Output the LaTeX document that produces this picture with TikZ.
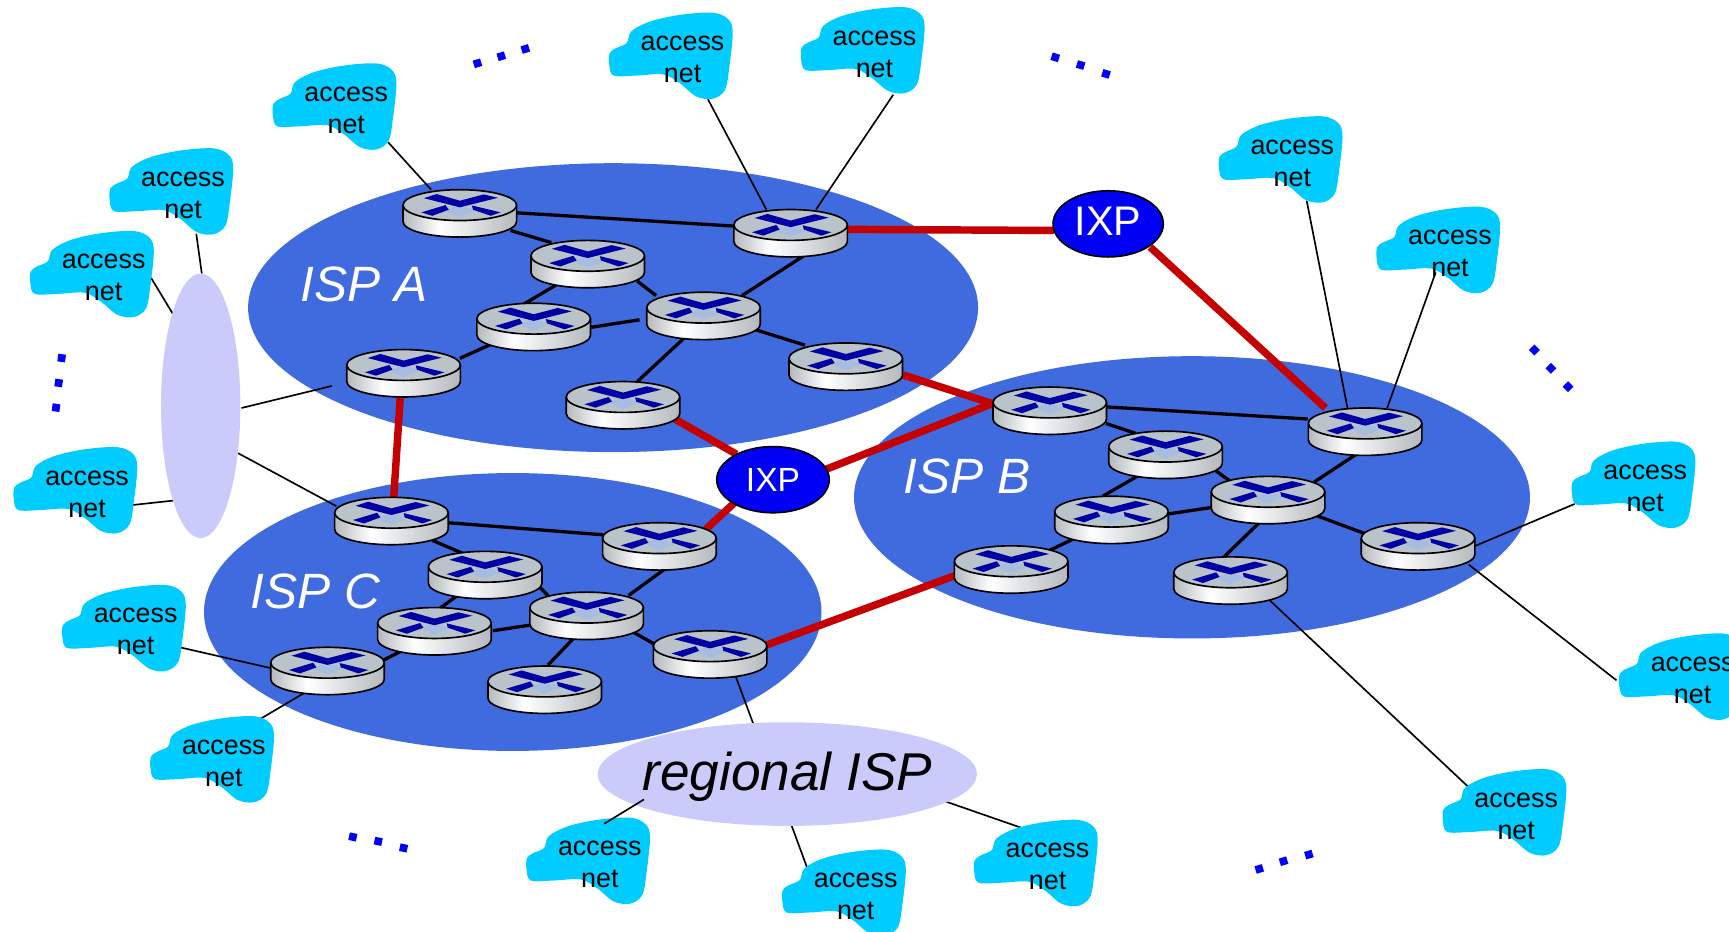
\documentclass[tikz,border=0pt]{standalone}
\usepackage{fontspec}
\setmainfont{Liberation Sans}
\usetikzlibrary{shapes.geometric,calc}
\pgfdeclarelayer{bg}\pgfdeclarelayer{lnk}
\pgfsetlayers{bg,lnk,main}
\definecolor{ispblue}{HTML}{3F6BDF}
\definecolor{lilac}{HTML}{CBCBFB}
\definecolor{cloudc}{HTML}{00CCFF}
\definecolor{redlink}{HTML}{C40000}
\definecolor{ixpblue}{HTML}{0000F5}
\definecolor{rtop}{HTML}{B9C3C9}
\definecolor{rmark}{HTML}{0000A5}
\definecolor{rlight}{HTML}{A6BDDF}
\definecolor{rgray}{HTML}{B4B9BD}
\pgfdeclarehorizontalshading{rbody}{100bp}{color(0bp)=(rgray); color(25bp)=(rgray); color(41bp)=(white); color(75bp)=(rgray); color(100bp)=(rgray)}
\tikzset{
  ispell/.style={ellipse,fill=ispblue,inner sep=0pt},
  lilacell/.style={ellipse,fill=lilac,inner sep=0pt,text=black},
  ixpnode/.style={ellipse,fill=ixpblue,draw=black,line width=1.2pt,inner sep=0pt},
  isplabel/.style={text=white,font=\fontsize{36}{40}\selectfont\itshape,inner sep=0pt},
  cloudtext/.style={align=center,inner sep=0pt,text=black,font=\fontsize{19.5}{23.2}\selectfont},
  blacklink/.style={draw=black,line width=2.4pt},
  redl/.style={draw=redlink,line width=5.4pt},
  thinl/.style={draw=black,line width=1.2pt},
  dotmark/.style={fill=blue},
}
\newcommand{\routerat}[3]{%
  \begin{scope}[shift={(#2,#3)}]
    \shade[shading=rbody] (-51.5,0) -- (-51.5,15) arc[x radius=51.5,y radius=14,start angle=180,end angle=0] -- (51.5,0) -- cycle;
    \draw[black,line width=1.2pt] (-51.5,0) -- (-51.5,15) arc[x radius=51.5,y radius=14,start angle=180,end angle=0] -- (51.5,0);
    \filldraw[fill=rtop,draw=black,line width=1.2pt] (0,0) ellipse[x radius=51.5,y radius=14];
    \fill[rlight] (0,0) -- (14,5) -- (0,11) -- (-14,5) -- cycle;
    \fill[rmark] (-32.6,-6.3) -- (-21,-10) -- (0,-4) -- (21.8,-9.7) -- (34.5,-6.6) -- (0,2) -- cycle;
    \fill[rmark] (-35,6.6) -- (-13,0) -- (-10,4.2) -- (-25,9.7) -- cycle;
    \fill[rmark] (11,0.3) -- (37,6.6) -- (28,9.7) -- (12,4.2) -- cycle;
    \coordinate (#1) at (0,0);
  \end{scope}}
\newcommand{\cloudat}[3]{%
  \begin{scope}[shift={(#2,#3)}]
    \fill[cloudc] plot[smooth cycle,tension=0.55] coordinates {(-66,-4) (-60,-8.5) (-50.5,-13.1) (-46.5,-23.5) (-29.5,-32.5) (-2.5,-38.5) (27.5,-40.5) (41.5,-34.5) (45.5,-22.5) (42.5,8) (38.5,29.5) (27.5,37.5) (12.5,35.5) (-2.5,23.5) (-17.5,15.5) (-41.5,16.5) (-62.5,16.5) (-66.5,6.5)};
    \node[cloudtext] (#1) at (0,2) {access\\net};
  \end{scope}}
\newcommand{\lk}[5]{\draw[#1] ($(#2)+(#3)$) -- ($(#4)+(#5)$);}
\newcommand{\dotgroup}[7]{%
  \foreach \px/\py in {#2/#3,#4/#5,#6/#7} {\fill[dotmark,shift={(\px,\py)},rotate=#1] (-3.5,-3.5) rectangle (3.5,3.5);}}
\begin{document}
\begin{tikzpicture}[x=0.8pt,y=-0.8pt]
\useasboundingbox (0,0) rectangle (1568,845.2);
\clip (0,0) rectangle (1568,845.2);
\begin{pgfonlayer}{bg}
  \node[ispell,minimum width=529.6pt,minimum height=209.6pt] (ispA) at (556,279) {};
  \node[ispell,minimum width=490.4pt,minimum height=204.8pt] (ispB) at (1081,451) {};
  \node[ispell,minimum width=448pt,minimum height=201.6pt] (ispC) at (465,555) {};
\end{pgfonlayer}
\node[isplabel] (labA) at (330,258) {ISP A};
\node[isplabel] (labB) at (877,432) {ISP B};
\node[isplabel] (labC) at (286,536) {ISP C};
\node[lilacell,minimum width=57.6pt,minimum height=192pt] (L) at (182,368) {};
\node[lilacell,minimum width=275.2pt,minimum height=75.2pt] (R) at (714,702) {};
\node[inner sep=0pt,text=black,font=\fontsize{38.6}{42}\selectfont\itshape] (Rlab) at (714,704) {regional ISP};
\node[ixpnode,minimum width=80pt,minimum height=48pt] (I1) at (1005,203) {};
\node[text=white,inner sep=0pt,font=\fontsize{30}{34}\selectfont] (I1lab) at (1005,201) {IXP};
\node[ixpnode,minimum width=81.6pt,minimum height=48pt] (I2) at (701,435) {};
\node[text=white,inner sep=0pt,font=\fontsize{24.3}{28}\selectfont] (I2lab) at (701,435) {IXP};
\routerat{A1}{417}{186}\routerat{A2}{717}{204}\routerat{A3}{533}{232}\routerat{A4}{638}{279}
\routerat{A5}{484}{289}\routerat{A6}{767}{325}\routerat{A7}{366}{331}\routerat{A8}{565}{360}
\routerat{B1}{952}{365}\routerat{B2}{1238}{384}\routerat{B3}{1057}{405}\routerat{B4}{1150}{446}
\routerat{B5}{1008}{464}\routerat{B6}{1286}{488}\routerat{B7}{917}{509}\routerat{B8}{1116}{519}
\routerat{C1}{355}{465}\routerat{C2}{598}{488}\routerat{C3}{440}{514}\routerat{C4}{532}{551}
\routerat{C5}{394}{565}\routerat{C6}{644}{586}\routerat{C7}{297}{601}\routerat{C8}{494}{618}
\cloudat{n1}{314}{98}\cloudat{n2}{619}{52}\cloudat{n3}{793}{47}\cloudat{n4}{166}{175}
\cloudat{n5}{94}{250}\cloudat{n6}{79}{446}\cloudat{n7}{123}{571}\cloudat{n8}{203}{690}
\cloudat{n9}{544}{782}\cloudat{n10}{776}{811}\cloudat{n11}{950}{784}\cloudat{n12}{1375}{738}
\cloudat{n13}{1535}{615}\cloudat{n14}{1492}{441}\cloudat{n15}{1315}{228}\cloudat{n16}{1172}{146}
\begin{pgfonlayer}{lnk}
  \lk{blacklink}{A1}{52,7}{A2}{-52,1}
  \lk{blacklink}{A1}{46,23}{A3}{-33,-12}
  \lk{blacklink}{A3}{-28,26}{A5}{-11,-12}
  \lk{blacklink}{A3}{45,23}{A4}{-43,-11}
  \lk{blacklink}{A5}{51,8}{A4}{-58,11}
  \lk{blacklink}{A5}{-36,22}{A7}{51,-6}
  \lk{blacklink}{A4}{35,-11}{A2}{12,28}
  \lk{blacklink}{A4}{-18,28}{A8}{13,-14}
  \lk{blacklink}{A4}{47,20}{A6}{-37,-12}
  \lk{blacklink}{B1}{51,4}{B2}{-52,-4}
  \lk{blacklink}{B1}{51,19}{B3}{-27,-12}
  \lk{blacklink}{B3}{-24,26}{B5}{-8,-14}
  \lk{blacklink}{B3}{43,20}{B4}{-35,-10}
  \lk{blacklink}{B5}{52,2}{B4}{-50,14}
  \lk{blacklink}{B5}{-33,24}{B7}{33,-9}
  \lk{blacklink}{B4}{42,-9}{B2}{-5,26}
  \lk{blacklink}{B4}{-8,28}{B8}{-6,-14}
  \lk{blacklink}{B4}{45,22}{B6}{-48,-4}
  \lk{blacklink}{C1}{51,9}{C2}{-51,-3}
  \lk{blacklink}{C1}{37,25}{C3}{-20,-12}
  \lk{blacklink}{C3}{-25,26}{C5}{3,-12}
  \lk{blacklink}{C3}{50,19}{C4}{-35,-11}
  \lk{blacklink}{C5}{53,7}{C4}{-52,16}
  \lk{blacklink}{C5}{-29,25}{C7}{48,-1}
  \lk{blacklink}{C4}{38,-11}{C2}{5,28}
  \lk{blacklink}{C4}{-10,26}{C8}{3,-15}
  \lk{blacklink}{C4}{40,21}{C6}{-49,-1}
  \lk{redl}{A2}{51,4}{I1}{-49,6}
  \lk{redl}{I1}{38,21}{B2}{-36,-14}
  \lk{redl}{A6}{52,15}{B1}{-52,1}
  \lk{redl}{B1}{-52,1}{I2}{47,-9}
  \lk{redl}{A8}{47,20}{I2}{-33,-23}
  \lk{redl}{I2}{-35,21}{C2}{42,-8}
  \lk{redl}{A7}{-3,29}{C1}{2,-13}
  \lk{redl}{C6}{51,-1}{B7}{-51,13}
  \lk{thinl}{n1}{38,29}{A1}{-26,-14}
  \lk{thinl}{n2}{23,36}{A2}{-22,-14}
  \lk{thinl}{n3}{17,37}{A2}{23,-14}
  \lk{thinl}{n4}{12,35}{L}{1,-120}
  \lk{thinl}{n5}{43,0}{L}{-25,-83}
  \lk{thinl}{n6}{41,10}{L}{-25,86}
  \lk{thinl}{n7}{40,14}{C7}{-51,5}
  \lk{thinl}{n8}{33,-40}{C7}{-17,25}
  \lk{thinl}{n10}{-44,-26}{R}{4,47}
  \lk{thinl}{n11}{-20,-34}{R}{144,25}
  \lk{thinl}{n12}{-43,-26}{B8}{34,24}
  \lk{thinl}{n13}{-69,0}{B6}{46,24}
  \lk{thinl}{n14}{-64,14}{B6}{52,7}
  \lk{thinl}{n15}{-13,17}{B2}{20,-14}
  \lk{thinl}{n16}{13,34}{B2}{-16,-14}
  \lk{thinl}{C6}{23,27}{R}{-31,-46}
  \lk{thinl}{L}{37,2}{A7}{-65,19}
  \lk{thinl}{L}{34,43}{C1}{-50,-6}
\end{pgfonlayer}
\lk{thinl}{n9}{4,-37}{R}{-130,23}
\dotgroup{17}{433}{57.4}{454.6}{51}{476.4}{44.4}
\dotgroup{-17}{957}{52}{980}{59}{1003}{67}
\dotgroup{-45}{1391.5}{317.4}{1406.5}{334}{1422}{350.7}
\dotgroup{-8}{55.9}{324.7}{53.2}{347.3}{50.8}{369.7}
\dotgroup{-12}{320}{759}{343}{763}{366}{769}
\dotgroup{17}{1142}{788}{1164}{781}{1187}{775}
\end{tikzpicture}
\end{document}
